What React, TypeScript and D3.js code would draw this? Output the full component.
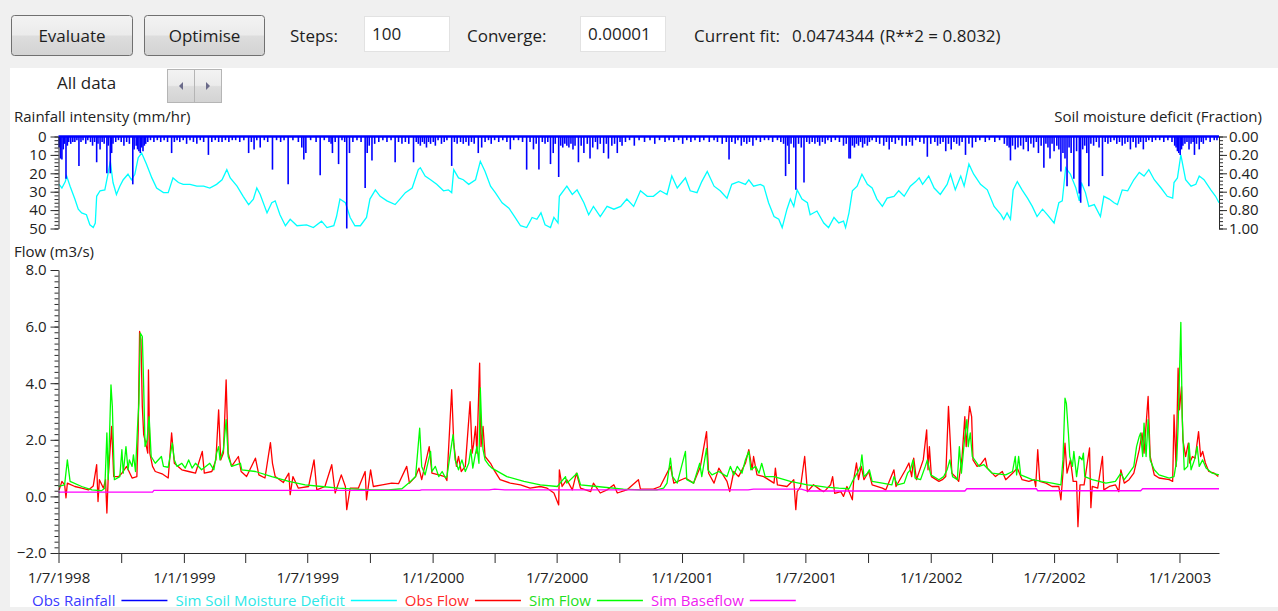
import React, { useEffect, useRef } from 'react';
import * as d3 from 'd3';

// ---------- DATA ----------
const START = new Date(1998, 6, 1); // 1 July 1998
const END_DAY = 1703; // days after START covered by the axis

const flowTicks = [-2, 0, 2, 4, 6, 8];
const rainTicks = [0, 10, 20, 30, 40, 50];
const smdTicks = [0, 0.2, 0.4, 0.6, 0.8, 1.0];

// [day offset from START, mm/hr]
const rainfall: [number, number][] = [
  [1,6],[3,12],[5,12.5],[7,7],[9,4],[11,23],[13,5],[15,3],[18,4],[21,3],[24,3],[27,2],[30,16],[33,3],[36,2],[40,4],[43,2],[47,3],[50,5],[53,3],[56,14],[58,4],[61,7],[64,3],[67,4],[71,20],[73,5],[76,20],[78,9],[80,4],[84,3],[88,2],[92,3],[96,5],[100,3],[104,4],[109,26],[111,7],[114,5],[116,7],[118,8],[120,9],[122,6],[124,8],[126,5],[128,4],[131,3],[135,2],[140,3],[145,2],[150,3],[155,2],[160,3],[166,9],[170,3],[174,2],[178,3],[183,2],[188,4],[193,2],[198,3],[203,4],[208,2],[213,3],[220,10],[225,3],[230,2],[235,3],[240,3],[245,2],[250,3],[255,2],[260,2],[266,3],[272,2],[279,9],[283,3],[287,7],[291,2],[296,6],[302,2],[307,3],[314,18],[320,2],[326,3],[331,2],[337,26],[344,2],[352,3],[357,6],[360,12.5],[363,9],[370,2],[378,3],[384,21],[390,2],[397,3],[400,4],[402,9],[406,3],[411,15],[416,2],[420,3],[423,50],[427,9],[432,3],[438,2],[444,3],[450,28],[453,9],[456,5],[460,13],[464,4],[470,3],[476,2],[482,3],[488,2],[494,14],[499,3],[504,4],[509,3],[514,4],[521,14],[525,3],[528,4],[531,5],[534,3],[537,4],[540,6],[543,3],[546,4],[550,3],[553,5],[557,2],[562,4],[566,3],[570,2],[577,16],[581,3],[585,4],[590,3],[594,4],[598,3],[602,5],[606,3],[610,4],[616,9],[621,6],[626,3],[631,2],[635,4],[640,2],[646,3],[652,2],[658,3],[663,7],[668,2],[675,2],[681,3],[687,18],[692,3],[697,7],[701,4],[705,18],[710,3],[714,4],[718,3],[722,15],[726,9],[729,4],[734,22],[737,5],[740,6],[743,4],[746,5],[749,6],[752,4],[755,7],[758,5],[763,14],[767,5],[771,9],[776,4],[780,12],[784,6],[788,3],[791,7],[795,4],[800,9],[804,4],[807,12],[812,5],[816,4],[820,9],[824,3],[827,5],[832,3],[838,2],[845,5],[852,2],[860,3],[868,2],[875,4],[882,2],[890,3],[896,2],[903,3],[910,2],[916,4],[922,2],[928,3],[934,2],[941,3],[947,2],[955,3],[962,2],[967,3],[974,4],[980,3],[984,12.5],[988,3],[993,4],[997,2],[1002,5],[1006,3],[1010,4],[1014,3],[1019,5],[1024,2],[1030,3],[1036,2],[1042,2],[1048,3],[1055,2],[1060,3],[1064,4],[1067,21.5],[1070,5],[1072,15],[1075,4],[1079,6],[1082,29],[1086,4],[1090,6],[1094,25],[1098,3],[1102,4],[1106,3],[1110,4],[1114,3],[1117,5],[1121,3],[1125,4],[1129,2],[1134,3],[1140,2],[1146,3],[1152,5],[1156,4],[1160,12],[1162,12],[1165,5],[1168,6],[1171,4],[1174,5],[1177,3],[1180,6],[1183,4],[1187,5],[1190,3],[1194,2],[1200,3],[1205,4],[1211,5],[1215,3],[1219,7],[1223,3],[1228,4],[1233,2],[1238,5],[1244,5],[1249,3],[1253,5],[1258,2],[1264,3],[1270,4],[1275,11],[1280,4],[1286,3],[1290,5],[1294,4],[1298,3],[1302,8],[1306,4],[1310,7],[1314,3],[1318,4],[1322,5],[1326,3],[1331,10],[1336,4],[1341,6],[1346,3],[1352,2],[1360,3],[1366,2],[1374,3],[1381,2],[1388,4],[1392,5],[1395,6],[1397,13],[1400,5],[1404,7],[1408,6],[1412,5],[1416,7],[1420,3],[1423,8],[1427,4],[1431,6],[1435,3],[1438,9],[1442,5],[1446,17],[1449,4],[1452,6],[1455,12],[1458,4],[1461,8],[1465,5],[1468,7],[1471,19],[1474,9],[1477,12],[1480,27],[1483,6],[1486,9],[1490,23],[1494,8],[1498,31],[1500,36],[1503,7],[1506,5],[1509,9],[1512,27],[1515,4],[1519,5],[1523,3],[1527,6],[1532,21.5],[1536,3],[1540,4],[1544,3],[1549,2],[1553,4],[1557,3],[1561,5],[1565,4],[1569,3],[1573,7],[1577,3],[1581,6],[1585,4],[1588,3],[1592,7],[1596,3],[1600,2],[1605,3],[1610,2],[1616,2],[1622,3],[1628,2],[1634,3],[1638,5],[1640,6],[1642,8],[1644,9],[1646,10],[1648,7],[1650,5],[1653,4],[1656,3],[1659,7],[1662,4],[1665,3],[1667,10],[1670,4],[1674,7],[1677,3],[1680,4],[1684,2],[1690,3],[1696,2],[1700,2]
];

// [day, fraction]
const soilMoistureDeficit: [number, number][] = [
  [1,0.52],[5,0.56],[10,0.49],[12,0.43],[17,0.54],[24,0.68],[29,0.79],[34,0.83],[41,0.85],[46,0.96],[51,0.99],[54,0.94],[56,0.65],[61,0.59],[68,0.58],[72,0.43],[76,0.27],[80,0.5],[85,0.63],[90,0.54],[95,0.47],[102,0.41],[107,0.47],[112,0.41],[117,0.23],[122,0.18],[129,0.3],[137,0.45],[144,0.56],[154,0.61],[161,0.61],[168,0.45],[176,0.5],[183,0.52],[193,0.52],[203,0.54],[213,0.54],[222,0.56],[232,0.52],[240,0.47],[247,0.36],[252,0.45],[262,0.54],[271,0.65],[279,0.74],[286,0.68],[291,0.56],[296,0.63],[306,0.83],[313,0.72],[318,0.7],[325,0.85],[333,0.97],[340,0.9],[350,0.97],[364,0.96],[374,0.99],[386,0.92],[394,0.99],[404,0.97],[408,0.87],[413,0.68],[421,0.72],[428,0.88],[435,0.97],[443,0.97],[452,0.88],[457,0.68],[465,0.58],[472,0.65],[482,0.7],[494,0.74],[501,0.68],[509,0.61],[519,0.56],[528,0.36],
  [531,0.34],[538,0.43],[546,0.47],[555,0.52],[565,0.59],[572,0.58],[577,0.61],[580,0.36],[587,0.45],[594,0.47],[602,0.52],[612,0.47],[619,0.27],[626,0.38],[634,0.54],[641,0.61],[651,0.72],[661,0.78],[670,0.88],[678,0.97],[687,0.99],[695,0.88],[702,0.9],[708,0.83],[714,0.96],[722,0.99],[727,0.88],[733,0.94],[735,0.65],[746,0.54],[754,0.63],[761,0.58],[771,0.72],[778,0.85],[785,0.76],[795,0.87],[805,0.76],[815,0.79],[825,0.76],[834,0.68],[844,0.76],[854,0.59],[864,0.65],[873,0.65],[883,0.59],[893,0.63],[900,0.43],[908,0.56],[920,0.45],[927,0.59],[937,0.61],[944,0.49],[952,0.38],[962,0.54],[971,0.59],[981,0.67],[988,0.52],[998,0.49],[1008,0.52],[1013,0.47],[1020,0.54],[1030,0.52],[1035,0.54],[1042,0.72],[1050,0.87],[1057,0.9],[1062,0.99],[1069,0.79],[1074,0.68],[1079,0.76],[1084,0.58],[1091,0.68],[1099,0.72],[1103,0.85],[1113,0.81],[1123,0.94],[1130,0.99],[1138,0.88],[1145,0.94],[1152,0.92],
  [1155,0.99],[1160,0.83],[1165,0.59],[1172,0.54],[1179,0.41],[1187,0.52],[1194,0.56],[1201,0.68],[1209,0.76],[1216,0.67],[1226,0.65],[1233,0.59],[1241,0.65],[1250,0.54],[1258,0.49],[1263,0.45],[1268,0.52],[1277,0.43],[1285,0.56],[1294,0.63],[1304,0.52],[1309,0.41],[1316,0.58],[1324,0.43],[1329,0.54],[1336,0.3],[1343,0.41],[1353,0.52],[1363,0.58],[1373,0.76],[1383,0.85],[1387,0.9],[1392,0.83],[1397,0.9],[1401,0.58],[1407,0.49],[1414,0.58],[1422,0.67],[1429,0.76],[1436,0.87],[1444,0.79],[1451,0.85],[1461,0.94],[1468,0.72],[1473,0.7],[1478,0.34],[1485,0.41],[1493,0.56],[1498,0.7],[1501,0.5],[1507,0.61],[1512,0.76],[1520,0.74],[1529,0.87],[1534,0.65],[1542,0.68],[1549,0.72],[1554,0.74],[1561,0.58],[1569,0.59],[1578,0.47],[1586,0.39],[1593,0.43],[1600,0.36],[1608,0.47],[1618,0.56],[1627,0.65],[1635,0.67],[1637,0.5],[1642,0.45],[1647,0.2],[1654,0.47],[1662,0.54],[1669,0.52],[1674,0.43],[1681,0.47],[1691,0.58],[1698,0.65],[1703,0.72]
];

// [day, m3/s]
const obsFlow: [number, number][] = [
  [1,0.23],[5,0.53],[9,0.41],[11,-0.05],[13,0.47],[24,0.35],[34,0.29],[44,0.23],[51,0.37],[54,0.82],[56,1.12],[58,-0.18],[60,0.59],[66,0.29],[69,0.59],[71,-0.59],[73,0.7],[78,2.47],[81,0.7],[88,0.7],[93,0.82],[100,1.06],[108,0.65],[115,0.7],[117,2.35],[119,5.83],[121,5.53],[123,3.18],[125,2.18],[128,1.88],[131,1.53],[132,4.47],[134,1.53],[138,1.06],[142,0.88],[152,0.8],[161,0.65],[166,2.24],[170,1.17],[181,0.94],[191,0.88],[201,0.82],[211,1.59],[214,0.82],[225,0.88],[231,1.29],[235,3.06],[238,1.29],[242,1.53],[246,4.12],[249,1.53],[254,1.06],[264,1.41],[268,0.88],[276,0.7],[289,1.35],[294,0.76],[303,0.65],[311,1.9],[314,1.17],[318,0.7],[330,0.49],[338,0.82],[340,0.06],[344,0.7],[352,0.29],[367,0.35],[375,1.29],[379,0.23],[391,0.35],[401,1.12],[406,0.12],[415,0.76],[421,0.35],[423,-0.47],[428,0.29],[440,0.29],[450,0.88],[452,-0.12],[458,0.94],[462,0.35],[475,0.41],[489,0.47],[499,0.45],[511,1.06],[515,0.47],[524,0.7],[529,1.0],[533,0.59],[544,1.76],[548,0.82],[558,0.76],[567,0.7],
  [570,0.56],[577,3.77],[580,1.88],[584,1.06],[587,1.41],[591,0.88],[597,1.06],[604,3.35],[607,1.53],[609,1.82],[612,2.47],[614,1.53],[618,4.71],[620,1.76],[623,2.47],[626,1.41],[634,1.17],[639,0.94],[648,0.59],[663,0.47],[678,0.41],[692,0.29],[707,0.35],[717,0.29],[727,0.12],[734,-0.3],[735,0.94],[739,0.35],[746,0.59],[754,0.23],[760,0.82],[766,0.29],[781,0.17],[785,0.47],[795,0.12],[805,0.23],[815,0.41],[820,0.12],[834,0.23],[851,0.59],[854,0.26],[873,0.26],[883,0.35],[898,1.06],[903,0.47],[920,0.65],[932,0.47],[942,1.06],[951,2.29],[954,0.82],[962,0.47],[969,1.0],[981,0.53],[985,0.17],[991,0.88],[998,0.7],[1008,1.17],[1013,1.65],[1018,0.94],[1020,1.41],[1025,0.76],[1035,0.7],[1050,0.47],[1052,1.0],[1055,0.41],[1069,0.35],[1079,0.59],[1082,-0.47],[1084,0.17],[1089,0.35],[1095,1.41],[1099,0.17],[1108,0.41],[1118,0.23],[1123,0.17],
  [1126,0.23],[1133,0.41],[1136,0.7],[1139,0.11],[1148,0.17],[1152,0.0],[1157,0.35],[1165,-0.12],[1167,0.59],[1171,1.18],[1174,0.59],[1178,1.06],[1182,0.59],[1189,0.88],[1194,0.41],[1209,0.29],[1214,0.23],[1226,0.94],[1229,0.35],[1243,0.94],[1248,1.18],[1252,0.7],[1255,1.35],[1259,0.59],[1269,1.29],[1274,2.35],[1276,0.94],[1278,1.76],[1281,0.7],[1292,0.53],[1297,0.59],[1302,0.7],[1306,3.18],[1308,2.24],[1311,0.82],[1316,0.7],[1321,0.53],[1326,1.41],[1330,2.82],[1332,1.76],[1337,3.18],[1340,2.82],[1342,1.29],[1348,1.06],[1353,1.12],[1360,1.35],[1363,1.0],[1375,0.7],[1385,0.88],[1390,0.59],[1400,0.82],[1407,1.0],[1414,0.59],[1424,0.53],[1432,0.59],[1434,0.35],[1437,1.65],[1440,0.53],[1449,0.47],[1458,0.35],[1468,0.35],[1471,-0.12],[1474,0.82],[1477,1.88],[1480,0.82],[1485,1.29],[1489,0.53],[1494,0.53],[1496,-1.07],[1499,0.41],[1505,0.41],[1513,1.71],[1515,-0.4],[1517,0.35],[1525,0.29],[1532,1.41],[1534,0.23],[1542,0.35],[1551,0.41],[1556,0.17],[1559,0.94],[1564,0.47],[1571,0.59],[1578,0.82],[1586,1.65],[1590,2.24],[1593,1.53],[1599,3.53],[1602,1.41],[1608,0.76],[1615,0.65],[1630,0.59],[1635,0.53],[1637,2.88],[1640,1.06],[1643,4.53],[1645,3.06],[1648,3.88],[1650,2.0],[1654,1.41],[1658,1.88],[1660,1.18],[1664,1.41],[1668,1.35],[1673,2.29],[1676,1.41],[1679,1.59],[1683,1.18],[1688,0.88],[1696,0.82],[1702,0.7]
];

const simFlow: [number, number][] = [
  [0,0.35],[9,0.41],[13,1.29],[17,0.53],[34,0.35],[49,0.23],[63,0.2],[68,0.29],[71,2.24],[73,0.59],[77,3.94],[79,3.18],[82,0.59],[90,0.7],[93,1.65],[95,0.82],[99,1.76],[102,0.94],[104,1.29],[108,1.06],[110,1.47],[113,0.88],[116,2.47],[118,3.3],[120,5.77],[123,5.65],[125,3.88],[127,1.76],[130,2.0],[133,2.82],[136,1.41],[142,1.17],[151,1.41],[154,1.06],[161,1.03],[167,1.88],[170,1.29],[174,1.06],[181,1.17],[186,1.0],[191,1.29],[196,1.0],[201,1.17],[210,0.94],[222,1.17],[228,0.94],[232,1.53],[235,1.76],[237,1.29],[242,1.65],[246,2.71],[249,1.41],[254,1.06],[267,1.17],[269,0.94],[289,0.88],[313,0.7],[338,0.53],[362,0.41],[386,0.35],[411,0.29],[435,0.26],[460,0.23],[484,0.23],[504,0.27],[514,0.47],[524,0.7],[530,2.41],[533,1.06],[538,0.76],[546,1.59],[548,0.88],[553,1.06],[558,0.7],[563,0.88],[568,0.65],
  [570,0.7],[575,1.53],[579,2.18],[582,1.29],[587,0.94],[592,1.29],[597,0.88],[602,1.17],[605,1.65],[608,1.0],[612,1.53],[614,1.76],[617,1.17],[619,3.83],[621,2.47],[623,1.65],[626,1.29],[631,1.12],[636,1.0],[658,0.7],[683,0.53],[707,0.41],[732,0.35],[744,0.7],[746,0.47],[761,0.82],[766,0.41],[790,0.35],[829,0.26],[854,0.23],[878,0.23],[888,0.29],[893,0.47],[898,1.35],[901,0.7],[908,0.47],[920,1.59],[922,0.59],[932,0.47],[941,1.17],[944,0.7],[951,1.7],[953,0.94],[959,0.76],[969,0.88],[981,0.7],[986,1.06],[991,0.76],[996,1.06],[1003,0.82],[1008,1.29],[1013,1.59],[1016,0.94],[1023,1.06],[1028,0.82],[1032,1.17],[1037,0.7],[1050,0.7],[1074,0.53],[1099,0.41],[1113,0.37],
  [1126,0.33],[1145,0.29],[1160,0.27],[1165,0.53],[1172,0.82],[1177,1.06],[1179,1.47],[1182,0.7],[1187,0.82],[1190,0.94],[1194,0.53],[1209,0.47],[1223,0.41],[1226,0.7],[1231,0.41],[1241,0.47],[1246,0.82],[1250,0.94],[1254,1.29],[1257,0.65],[1265,0.59],[1272,1.06],[1275,1.29],[1280,0.76],[1292,0.59],[1299,0.7],[1304,0.94],[1308,1.29],[1312,0.7],[1319,0.59],[1322,1.76],[1325,0.82],[1330,2.12],[1333,2.71],[1335,1.76],[1338,2.24],[1341,1.41],[1351,1.06],[1358,1.12],[1370,0.82],[1390,0.76],[1400,0.88],[1404,1.41],[1406,0.76],[1409,1.41],[1412,0.76],[1429,0.59],[1458,0.47],[1471,0.41],[1474,1.29],[1477,3.47],[1479,3.29],[1482,2.24],[1484,1.41],[1488,1.06],[1490,1.59],[1494,0.7],[1498,1.41],[1502,1.29],[1504,1.53],[1506,0.7],[1517,0.59],[1537,0.47],[1551,0.53],[1559,0.82],[1564,0.59],[1571,0.82],[1578,1.06],[1582,1.76],[1586,2.12],[1588,2.24],[1591,1.41],[1593,2.59],[1596,1.41],[1599,2.71],[1602,1.29],[1608,0.94],[1615,0.76],[1630,0.65],[1637,0.7],[1641,1.29],[1643,2.47],[1647,6.15],[1649,2.82],[1652,0.94],[1657,1.06],[1659,1.88],[1662,0.94],[1667,1.29],[1671,1.76],[1674,1.06],[1679,1.29],[1684,1.0],[1693,0.82],[1703,0.76]
];

const simBaseflow: [number, number][] = [
  [0,0.15],[138,0.15],[140,0.21],[530,0.21],[533,0.23],[632,0.23],[640,0.26],[655,0.23],[1012,0.23],[1020,0.26],[1090,0.26],[1100,0.19],[1330,0.19],[1333,0.27],[1435,0.27],[1437,0.2],[1588,0.2],[1591,0.27],[1703,0.27]
];

const legendLabels = ['Obs Rainfall', 'Sim Soil Moisture Deficit', 'Obs Flow', 'Sim Flow', 'Sim Baseflow'];
const legendColors = ['#0000ff', '#00ffff', '#ff0000', '#00ff00', '#ff00ff'];
const legendTextColors = ['#3a3aff', '#2ee8e8', '#ff2a2a', '#22e022', '#f020f0'];

// ---------- COMPONENT ----------
export default function App() {
  const ref = useRef<SVGSVGElement>(null);

  useEffect(() => {
    const W = 1278, H = 611;
    const FONT = '"Open Sans", "Noto Sans", "DejaVu Sans", sans-serif';
    const svg = d3.select(ref.current);
    svg.selectAll('*').remove();
    svg.attr('font-family', FONT);

    const dayDate = (d: number) => d3.timeDay.offset(START, d);
    const X0 = 58.5, X1 = 1219;
    const x = d3.scaleTime().domain([START, dayDate(END_DAY)]).range([X0, X1]);
    const yRain = d3.scaleLinear().domain([0, 50]).range([136.5, 228.5]);
    const ySmd = d3.scaleLinear().domain([0, 1]).range([136.5, 228.5]);
    const yFlow = d3.scaleLinear().domain([-2, 8]).range([553, 270]);

    // backgrounds
    svg.append('rect').attr('width', W).attr('height', H).attr('fill', '#f0f0f0');
    svg.append('rect').attr('x', 10).attr('y', 68).attr('width', W - 10).attr('height', 539).attr('fill', '#ffffff');

    const defs = svg.append('defs');
    const grad = defs.append('linearGradient').attr('id', 'btnGrad').attr('x1', 0).attr('y1', 0).attr('x2', 0).attr('y2', 1);
    grad.append('stop').attr('offset', '0%').attr('stop-color', '#f3f3f3');
    grad.append('stop').attr('offset', '48%').attr('stop-color', '#ebebeb');
    grad.append('stop').attr('offset', '52%').attr('stop-color', '#dddddd');
    grad.append('stop').attr('offset', '100%').attr('stop-color', '#d3d3d3');

    // ----- toolbar -----
    const tb = svg.append('g').attr('font-size', 17).attr('fill', '#1e1e1e');
    const buttons = [{ label: 'Evaluate', x: 11.5, w: 121 }, { label: 'Optimise', x: 144.5, w: 120 }];
    buttons.forEach(b => {
      tb.append('rect').attr('x', b.x).attr('y', 15.5).attr('width', b.w).attr('height', 40).attr('rx', 3)
        .attr('fill', 'url(#btnGrad)').attr('stroke', '#707070');
      tb.append('text').attr('x', b.x + b.w / 2).attr('y', 41.5).attr('text-anchor', 'middle').text(b.label);
    });
    tb.append('text').attr('x', 290).attr('y', 41.5).text('Steps:');
    tb.append('rect').attr('x', 364.5).attr('y', 16.5).attr('width', 85).attr('height', 35).attr('fill', '#fff').attr('stroke', '#e2e2e2');
    tb.append('text').attr('x', 372).attr('y', 39.5).text('100');
    tb.append('text').attr('x', 467).attr('y', 41.5).text('Converge:');
    tb.append('rect').attr('x', 580.5).attr('y', 16.5).attr('width', 85).attr('height', 35).attr('fill', '#fff').attr('stroke', '#e2e2e2');
    tb.append('text').attr('x', 588).attr('y', 39.5).text('0.00001');
    tb.append('text').attr('x', 694).attr('y', 41.5).text('Current fit:');
    tb.append('text').attr('x', 792).attr('y', 41.5).text('0.0474344');
    tb.append('text').attr('x', 880).attr('y', 41.5).text('(R**2 = 0.8032)');

    tb.append('text').attr('x', 57).attr('y', 88.5).text('All data');
    [0, 1].forEach(i => {
      const bx = 167.5 + i * 27;
      tb.append('rect').attr('x', bx).attr('y', 69.5).attr('width', 27).attr('height', 33)
        .attr('fill', 'url(#btnGrad)').attr('stroke', '#b5b5b5');
      const cx = bx + 13.5, cy = 86;
      const p = i === 0 ? `M${cx + 2},${cy - 4}L${cx - 2},${cy}L${cx + 2},${cy + 4}Z` : `M${cx - 2},${cy - 4}L${cx + 2},${cy}L${cx - 2},${cy + 4}Z`;
      tb.append('path').attr('d', p).attr('fill', '#6b6b8a');
    });

    const axisColor = '#2b2b2b';
    const labelColor = '#222';
    const FS = 15;

    // ----- upper panel: rainfall & SMD -----
    const up = svg.append('g');
    up.append('text').attr('x', 14).attr('y', 122).attr('font-size', FS).attr('fill', labelColor).text('Rainfall intensity (mm/hr)');
    up.append('text').attr('x', 1262).attr('y', 122).attr('font-size', FS).attr('fill', labelColor).attr('text-anchor', 'end').text('Soil moisture deficit (Fraction)');

    const smdLine = d3.line<[number, number]>().x(d => x(dayDate(d[0]))).y(d => ySmd(d[1]));
    up.append('path').datum(soilMoistureDeficit).attr('d', smdLine).attr('fill', 'none').attr('stroke', '#00ffff').attr('stroke-width', 1.3);

    up.append('g').selectAll('line').data(rainfall).join('line')
      .attr('x1', d => x(dayDate(d[0]))).attr('x2', d => x(dayDate(d[0])))
      .attr('y1', yRain(0)).attr('y2', d => yRain(d[1]))
      .attr('stroke', '#0000ff').attr('stroke-width', 1.6);
    up.append('line').attr('x1', X0).attr('x2', X1).attr('y1', yRain(0)).attr('y2', yRain(0)).attr('stroke', '#0000ff').attr('stroke-width', 2.4);

    const styleAxis = (g: any) => {
      g.selectAll('path').attr('stroke', axisColor);
      g.selectAll('line').attr('stroke', axisColor);
      g.selectAll('text').attr('fill', labelColor).attr('font-size', FS).attr('font-family', FONT);
    };

    const rainMinor = up.append('g').attr('transform', `translate(${X0},0)`)
      .call(d3.axisLeft(yRain).tickValues(d3.range(0, 50.01, 2)).tickSize(4).tickSizeOuter(0).tickFormat(() => ''));
    styleAxis(rainMinor);
    const rainMajor = up.append('g').attr('transform', `translate(${X0},0)`)
      .call(d3.axisLeft(yRain).tickValues(rainTicks).tickSize(8).tickSizeOuter(0).tickPadding(4).tickFormat(d3.format('d')));
    styleAxis(rainMajor);
    rainMajor.select('.domain').remove();

    const smdMinor = up.append('g').attr('transform', `translate(${X1},0)`)
      .call(d3.axisRight(ySmd).tickValues(d3.range(0, 1.0001, 0.04)).tickSize(4).tickSizeOuter(0).tickFormat(() => ''));
    styleAxis(smdMinor);
    const smdMajor = up.append('g').attr('transform', `translate(${X1},0)`)
      .call(d3.axisRight(ySmd).tickValues(smdTicks).tickSize(8).tickSizeOuter(0).tickPadding(2).tickFormat(d3.format('.2f')));
    styleAxis(smdMajor);
    smdMajor.select('.domain').remove();

    // ----- flow panel -----
    const fp = svg.append('g');
    fp.append('text').attr('x', 14).attr('y', 257).attr('font-size', FS).attr('fill', labelColor).text('Flow (m3/s)');

    const flowLine = d3.line<[number, number]>().x(d => x(dayDate(d[0]))).y(d => yFlow(d[1]));
    fp.append('path').datum(obsFlow).attr('d', flowLine).attr('fill', 'none').attr('stroke', '#ff0000').attr('stroke-width', 1.3).attr('stroke-linejoin', 'round');
    fp.append('path').datum(simFlow).attr('d', flowLine).attr('fill', 'none').attr('stroke', '#00ff00').attr('stroke-width', 1.3).attr('stroke-linejoin', 'round');
    fp.append('path').datum(simBaseflow).attr('d', flowLine).attr('fill', 'none').attr('stroke', '#ff00ff').attr('stroke-width', 1.3);

    const flowMinor = fp.append('g').attr('transform', `translate(${X0},0)`)
      .call(d3.axisLeft(yFlow).tickValues(d3.range(-2, 8.001, 0.2)).tickSize(4).tickSizeOuter(0).tickFormat(() => ''));
    styleAxis(flowMinor);
    const flowMajor = fp.append('g').attr('transform', `translate(${X0},0)`)
      .call(d3.axisLeft(yFlow).tickValues(flowTicks).tickSize(8).tickSizeOuter(0).tickPadding(4).tickFormat(d3.format('.1f')));
    styleAxis(flowMajor);
    flowMajor.select('.domain').remove();

    const fmtDate = (d: Date) => (d.getMonth() === 0 || d.getMonth() === 6) ? `${d.getDate()}/${d.getMonth() + 1}/${d.getFullYear()}` : '';
    const xAxis = fp.append('g').attr('transform', `translate(0,${yFlow(-2)})`)
      .call(d3.axisBottom(x).ticks(d3.timeMonth.every(3)).tickSize(10).tickSizeOuter(0).tickPadding(9).tickFormat(fmtDate as any));
    styleAxis(xAxis);

    // ----- legend -----
    const lg = svg.append('g').attr('font-size', FS);
    let lx = 32;
    legendLabels.forEach((label, i) => {
      const t = lg.append('text').attr('x', lx).attr('y', 605.5).attr('fill', legendTextColors[i]).text(label);
      const tw = (t.node() as SVGTextElement).getComputedTextLength();
      const l0 = lx + tw + 6;
      lg.append('line').attr('x1', l0).attr('x2', l0 + 46).attr('y1', 600.5).attr('y2', 600.5).attr('stroke', legendColors[i]).attr('stroke-width', 1.3);
      lx = l0 + 46 + 8;
    });
  }, []);

  return <svg ref={ref} width={1278} height={611} style={{ position: 'absolute', left: 0, top: 0, display: 'block' }} />;
}
